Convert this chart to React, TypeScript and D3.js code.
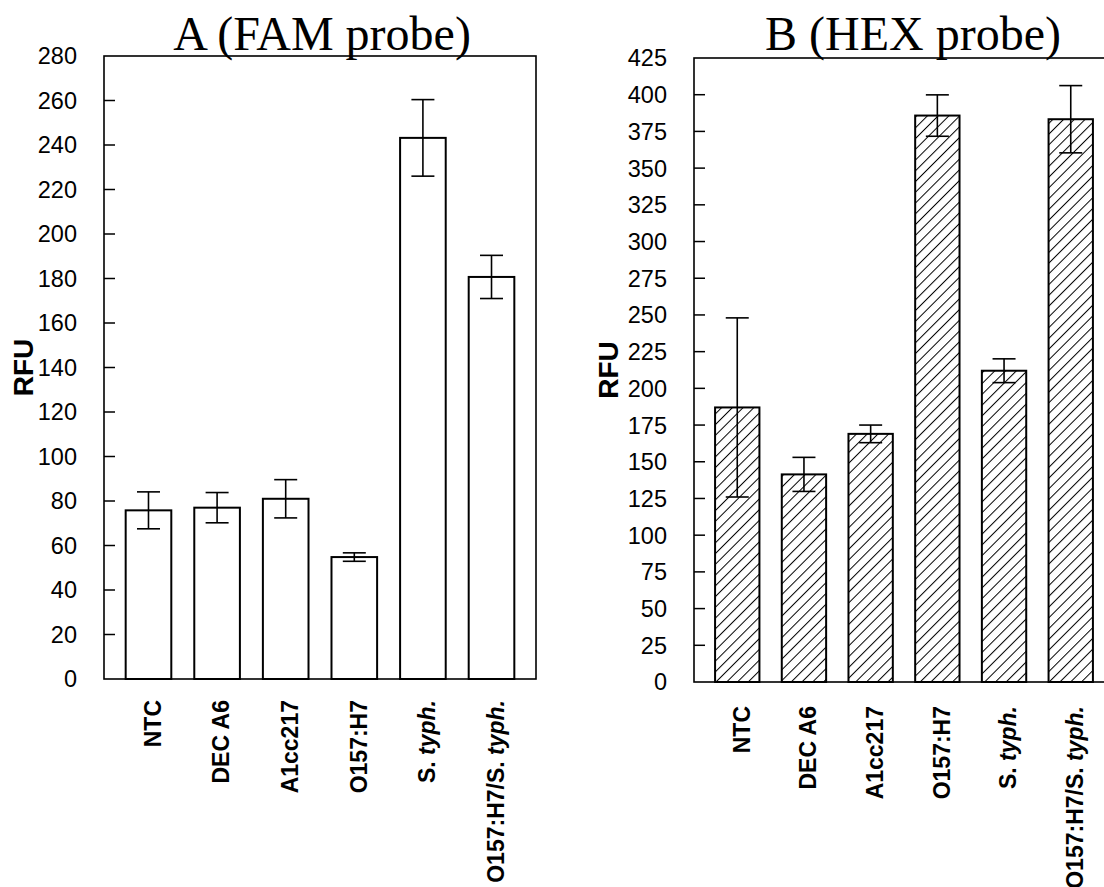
import React from "react";
import * as d3 from "d3";

// strains on the x axis (same for both probes)
const categories = ["NTC", "DEC A6", "A1cc217", "O157:H7", "S. typh.", "O157:H7/S. typh."];

// panel A - FAM probe
const famMeans = [75.8, 77, 81, 54.8, 243.2, 180.7];
const famErrors = [8.3, 6.8, 8.6, 1.9, 17.2, 9.7];
const famTicks = [0, 20, 40, 60, 80, 100, 120, 140, 160, 180, 200, 220, 240, 260, 280];

// panel B - HEX probe
const hexMeans = [187, 141.4, 169, 385.8, 212, 383.3];
const hexErrors = [61, 11.6, 6, 14.1, 8.1, 22.9];
const hexTicks = [0, 25, 50, 75, 100, 125, 150, 175, 200, 225, 250, 275, 300, 325, 350, 375, 400, 425];

const SANS = "'Liberation Sans', Arial, Helvetica, sans-serif";
const SERIF = "'Liberation Serif', 'Times New Roman', serif";

type PanelProps = {
  title: string;
  means: number[];
  errors: number[];
  ticks: number[];
  left: number;
  right: number;
  top: number;
  bottom: number;
  titleX: number;
  rfuX: number;
  labelTop: number;
  hatched: boolean;
};

// splits "S. typh." so the genus initial stays upright and species is italic
const CategoryLabel = ({ name }: { name: string }) => {
  const i = name.indexOf("typh.");
  if (i < 0) return <>{name}</>;
  return (
    <>
      {name.slice(0, i)}
      <tspan fontStyle="italic">typh.</tspan>
    </>
  );
};

const Panel = (p: PanelProps) => {
  const x = d3
    .scaleBand<string>()
    .domain(categories)
    .range([p.left, p.right])
    .paddingInner(0.335)
    .paddingOuter(0.316);

  const y = d3
    .scaleLinear()
    .domain([0, p.ticks[p.ticks.length - 1]])
    .range([p.bottom, p.top]);

  const capHalf = 11.5;
  const midY = (p.top + p.bottom) / 2;

  return (
    <g>
      {/* bars */}
      {categories.map((c, i) => (
        <rect
          key={c}
          x={x(c)}
          y={y(p.means[i])}
          width={x.bandwidth()}
          height={p.bottom - y(p.means[i])}
          fill={p.hatched ? "url(#hatch)" : "#fff"}
          stroke="#000"
          strokeWidth={2}
        />
      ))}

      {/* error bars */}
      {categories.map((c, i) => {
        const cx = (x(c) as number) + x.bandwidth() / 2;
        const hi = y(p.means[i] + p.errors[i]);
        const lo = y(p.means[i] - p.errors[i]);
        return (
          <g key={c} stroke="#000" strokeWidth={1.6}>
            <line x1={cx} x2={cx} y1={hi} y2={lo} />
            <line x1={cx - capHalf} x2={cx + capHalf} y1={hi} y2={hi} />
            <line x1={cx - capHalf} x2={cx + capHalf} y1={lo} y2={lo} />
          </g>
        );
      })}

      {/* frame */}
      <rect
        x={p.left}
        y={p.top}
        width={p.right - p.left}
        height={p.bottom - p.top}
        fill="none"
        stroke="#000"
        strokeWidth={1.6}
      />

      {/* y ticks point inwards */}
      {p.ticks.map((t) => (
        <g key={t}>
          {t > 0 && t < p.ticks[p.ticks.length - 1] && (
            <line x1={p.left} x2={p.left + 11} y1={y(t)} y2={y(t)} stroke="#000" strokeWidth={1.5} />
          )}
          <text
            x={p.left - 27}
            y={y(t)}
            dy="0.36em"
            textAnchor="end"
            fontFamily={SANS}
            fontSize={23.5}
          >
            {t}
          </text>
        </g>
      ))}

      <text
        transform={`translate(${p.rfuX},${midY}) rotate(-90)`}
        dy="0.36em"
        textAnchor="middle"
        fontFamily={SANS}
        fontWeight="bold"
        fontSize={28}
      >
        RFU
      </text>

      {/* category labels, rotated */}
      {categories.map((c) => (
        <text
          key={c}
          transform={`translate(${(x(c) as number) + x.bandwidth() / 2 + 4},${p.labelTop}) rotate(-90)`}
          dy="0.36em"
          textAnchor="end"
          fontFamily={SANS}
          fontWeight="bold"
          fontSize={23}
        >
          <CategoryLabel name={c} />
        </text>
      ))}

      <text x={p.titleX} y={50} textAnchor="middle" fontFamily={SERIF} fontSize={48}>
        {p.title}
      </text>
    </g>
  );
};

export default function App() {
  return (
    <div style={{ position: "absolute", left: 0, top: 0 }}>
      <svg width={1104} height={887} style={{ display: "block", background: "#fff", overflow: "hidden" }}>
        <defs>
          <pattern id="hatch" patternUnits="userSpaceOnUse" width={7.6} height={7.6} patternTransform="rotate(45)">
            <rect width={7.6} height={7.6} fill="#fff" />
            <line x1={0} y1={0} x2={0} y2={7.6} stroke="#000" strokeWidth={2} />
          </pattern>
        </defs>
        <Panel
          title="A (FAM probe)"
          means={famMeans}
          errors={famErrors}
          ticks={famTicks}
          left={104}
          right={536}
          top={56}
          bottom={679}
          titleX={322}
          rfuX={23}
          labelTop={700}
          hatched={false}
        />
        <Panel
          title="B (HEX probe)"
          means={hexMeans}
          errors={hexErrors}
          ticks={hexTicks}
          left={694}
          right={1114}
          top={58}
          bottom={682}
          titleX={913}
          rfuX={608}
          labelTop={706}
          hatched={true}
        />
      </svg>
    </div>
  );
}
